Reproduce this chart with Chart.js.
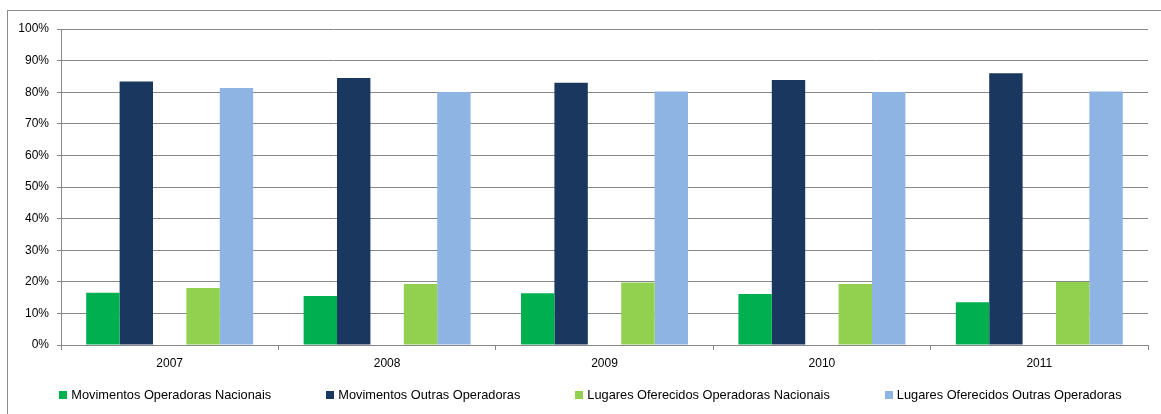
<!DOCTYPE html>
<html>
<head>
<meta charset="utf-8">
<script src="https://cdn.jsdelivr.net/npm/chart.js@4"></script>
<style>
    html, body { margin: 0; padding: 0; background: #fff; }
    #wrap { position: relative; width: 1161px; height: 414px; overflow: hidden; }
    #frame { position: absolute; left: 7px; top: 10px; width: 1200px; height: 450px;
             border-left: 1px solid #8c8c8c; border-top: 1px solid #8c8c8c; }
    #legend { position: absolute; left: 10px; width: 1161px; top: 387px;
              display: flex; justify-content: center; gap: 55px;
              font: 12.8px "Liberation Sans", Arial, sans-serif; color: #000; }
    #legend span.item { display: flex; align-items: center; white-space: nowrap; }
    #legend span.box { display: inline-block; width: 8px; height: 8px; margin-right: 4px; }
</style>
</head>
<body>
<div id="wrap">
    <div id="frame"></div>
    <canvas id="quotaChart" width="1161" height="414"></canvas>
    <div id="legend"></div>
</div>
<script>
var years = ['2007', '2008', '2009', '2010', '2011'];

// shares in %
var movNacionais = [16.5, 15.5, 16.4, 16.1, 13.5];
var movOutras = [83.4, 84.5, 83.0, 83.9, 86.0];
var lugNacionais = [18.0, 19.3, 19.8, 19.3, 19.9];
var lugOutras = [81.3, 80.1, 80.2, 80.1, 80.2];
// empty slot between the two groups of bars
var spacer = [null, null, null, null, null];

var yTicks = [0, 10, 20, 30, 40, 50, 60, 70, 80, 90, 100];

var gridColor = '#888888';
var font = { family: '"Liberation Sans", Arial, sans-serif', size: 12 };

var ctx = document.getElementById('quotaChart');
var quotaChart = new Chart(ctx, {
    type: 'bar',
    data: {
        labels: years,
        datasets: [
            { label: 'Movimentos Operadoras Nacionais', data: movNacionais, backgroundColor: '#00B050' },
            { label: 'Movimentos Outras Operadoras', data: movOutras, backgroundColor: '#1A385F' },
            { label: '', data: spacer, backgroundColor: 'rgba(0,0,0,0)' },
            { label: 'Lugares Oferecidos Operadoras Nacionais', data: lugNacionais, backgroundColor: '#92D050' },
            { label: 'Lugares Oferecidos Outras Operadoras', data: lugOutras, backgroundColor: '#8EB4E3' }
        ]
    },
    options: {
        responsive: false,
        animation: { duration: 0 },
        datasets: {
            bar: { barPercentage: 1, categoryPercentage: 0.768 }
        },
        layout: { padding: { top: 29, right: 13, left: 0, bottom: 0 } },
        plugins: {
            legend: { display: false },
            tooltip: { enabled: false }
        },
        scales: {
            x: {
                grid: { drawOnChartArea: false, drawTicks: true, tickLength: 5, color: gridColor },
                border: { color: gridColor },
                ticks: { color: '#000', font: font, padding: 6 },
                afterFit: function (scale) { scale.height = 69; }
            },
            y: {
                min: 0,
                max: 100,
                afterBuildTicks: function (scale) {
                    scale.ticks = yTicks.map(function (v) { return { value: v }; });
                },
                grid: { color: gridColor, tickLength: 4 },
                border: { color: gridColor },
                ticks: {
                    color: '#000',
                    font: font,
                    padding: 8,
                    callback: function (v) { return v + '%'; }
                },
                afterFit: function (scale) { scale.width = 61; }
            }
        }
    }
});

// legend below the plot, built from the datasets
var legend = document.getElementById('legend');
quotaChart.data.datasets.forEach(function (ds) {
    if (!ds.label) return;
    var item = document.createElement('span');
    item.className = 'item';
    var box = document.createElement('span');
    box.className = 'box';
    box.style.background = ds.backgroundColor;
    item.appendChild(box);
    item.appendChild(document.createTextNode(ds.label));
    legend.appendChild(item);
});
</script>
</body>
</html>
